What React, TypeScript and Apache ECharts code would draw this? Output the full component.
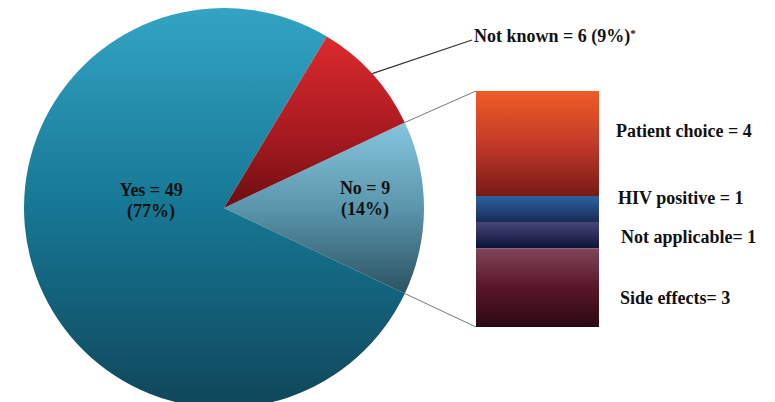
import React, { useEffect, useRef } from "react";
import * as echarts from "echarts";

// ---- data ----
const pieNames = ["No", "Yes", "Not known"];
const pieValues = [9, 49, 6];
const piePercents = ["14%", "77%", "9%"];
const barNames = ["Patient choice", "HIV positive", "Not applicable", "Side effects"];
const barValues = [4, 1, 1, 3];
const barLabels = ["Patient choice = 4", "HIV positive = 1", "Not applicable= 1", "Side effects= 3"];

// ---- layout / style ----
const W = 775;
const H = 402;
const CX = 224;
const CY = 208;
const R = 200;
const GRID = { left: 476, top: 91, width: 123, height: 236 };
const FONT = "'Liberation Serif', 'Times New Roman', serif";
const FS = 18;

const grad = (stops: [number, string][]) =>
  new echarts.graphic.LinearGradient(0, 0, 0, 1, stops.map(([offset, color]) => ({ offset, color })));

const pieFills = [
  grad([[0, "#86c6dd"], [0.5, "#5a96ac"], [1, "#2c5262"]]),
  grad([[0, "#34a4c4"], [0.5, "#167794"], [1, "#10465a"]]),
  grad([[0, "#dc2a2e"], [0.6, "#a41a20"], [1, "#6c0e10"]]),
];
const barFills = [
  grad([[0, "#f05c26"], [0.5, "#c23a2a"], [1, "#781a16"]]),
  grad([[0, "#2c62a2"], [1, "#1a2a56"]]),
  grad([[0, "#484678"], [1, "#0a1236"]]),
  grad([[0, "#7e4658"], [0.5, "#5a1628"], [1, "#2a0a12"]]),
];
const barLabelOffsets: [number, number][] = [[0, -12], [2, -11], [5, 2], [4, 10]];
const pieLabelPos = [
  { x: 365, y: 198, align: "center" },
  { x: 151, y: 200, align: "center" },
  { x: 474, y: 36, align: "left" },
];

export default function App() {
  const ref = useRef<HTMLDivElement>(null);
  useEffect(() => {
    document.body.style.margin = "0";
    const chart = echarts.init(ref.current!, null, { renderer: "svg" });
    const total = pieValues.reduce((a, b) => a + b, 0);
    const startAngle = ((pieValues[0] / total) * 360) / 2;
    const rad = (d: number) => (d * Math.PI) / 180;
    const pt = (deg: number, r = R) => [CX + r * Math.cos(rad(deg)), CY - r * Math.sin(rad(deg))];
    const noTop = pt(startAngle);
    const noBottom = pt(startAngle - (pieValues[0] / total) * 360);
    const nkStart = startAngle - ((pieValues[0] + pieValues[1]) / total) * 360;
    const nkMid = nkStart - ((pieValues[2] / total) * 360) / 2;
    const nkPt = pt(nkMid);

    const barSum = barValues.reduce((a, b) => a + b, 0);

    chart.setOption({
      animation: false,
      backgroundColor: "#ffffff",
      grid: { ...GRID, containLabel: false },
      xAxis: { type: "category", data: ["No"], show: false },
      yAxis: { type: "value", min: 0, max: barSum, inverse: true, show: false },
      series: [
        {
          type: "pie",
          center: [CX, CY],
          radius: R,
          startAngle,
          clockwise: true,
          silent: true,
          data: pieNames.map((n, i) => ({
            name: n,
            value: pieValues[i],
            itemStyle: { color: pieFills[i] },
          })),
          label: {
            show: true,
            position: "inside",
            fontFamily: FONT,
            fontWeight: "bold",
            fontSize: FS,
            lineHeight: 21,
            color: "#111",
            formatter: (p: any) =>
              p.dataIndex === 2
                ? `{t|${p.name} = ${p.value} (${piePercents[p.dataIndex]})}{s|*}`
                : `${p.name} = ${p.value}\n(${piePercents[p.dataIndex]})`,
            rich: {
              t: { fontFamily: FONT, fontWeight: "bold", fontSize: FS, color: "#111" },
              s: { fontFamily: FONT, fontWeight: "bold", fontSize: 11, color: "#111", padding: [0, 0, 7, 0] },
            },
          },
          labelLine: { show: false },
          labelLayout: (p: any) => {
            const pos = pieLabelPos[p.dataIndex];
            return { x: pos.x, y: pos.y, align: pos.align, verticalAlign: "middle" };
          },
        },
        ...barNames.map((n, i) => ({
          type: "bar",
          name: n,
          stack: "reasons",
          barWidth: "100%",
          silent: true,
          data: [barValues[i]],
          itemStyle: { color: barFills[i] },
          label: {
            show: true,
            position: "right",
            distance: 17,
            offset: barLabelOffsets[i],
            formatter: barLabels[i],
            fontFamily: FONT,
            fontWeight: "bold",
            fontSize: FS,
            color: "#111",
          },
        })),
      ],
      graphic: [
        {
          type: "line",
          silent: true,
          shape: { x1: noTop[0], y1: noTop[1], x2: GRID.left, y2: GRID.top },
          style: { stroke: "#777", lineWidth: 1 },
        },
        {
          type: "line",
          silent: true,
          shape: { x1: noBottom[0], y1: noBottom[1], x2: GRID.left, y2: GRID.top + GRID.height },
          style: { stroke: "#777", lineWidth: 1 },
        },
        {
          type: "line",
          silent: true,
          shape: { x1: nkPt[0], y1: nkPt[1], x2: 472, y2: 40 },
          style: { stroke: "#333", lineWidth: 1.2 },
        },
      ],
    });
    return () => chart.dispose();
  }, []);
  return <div ref={ref} style={{ width: W, height: H }} />;
}
